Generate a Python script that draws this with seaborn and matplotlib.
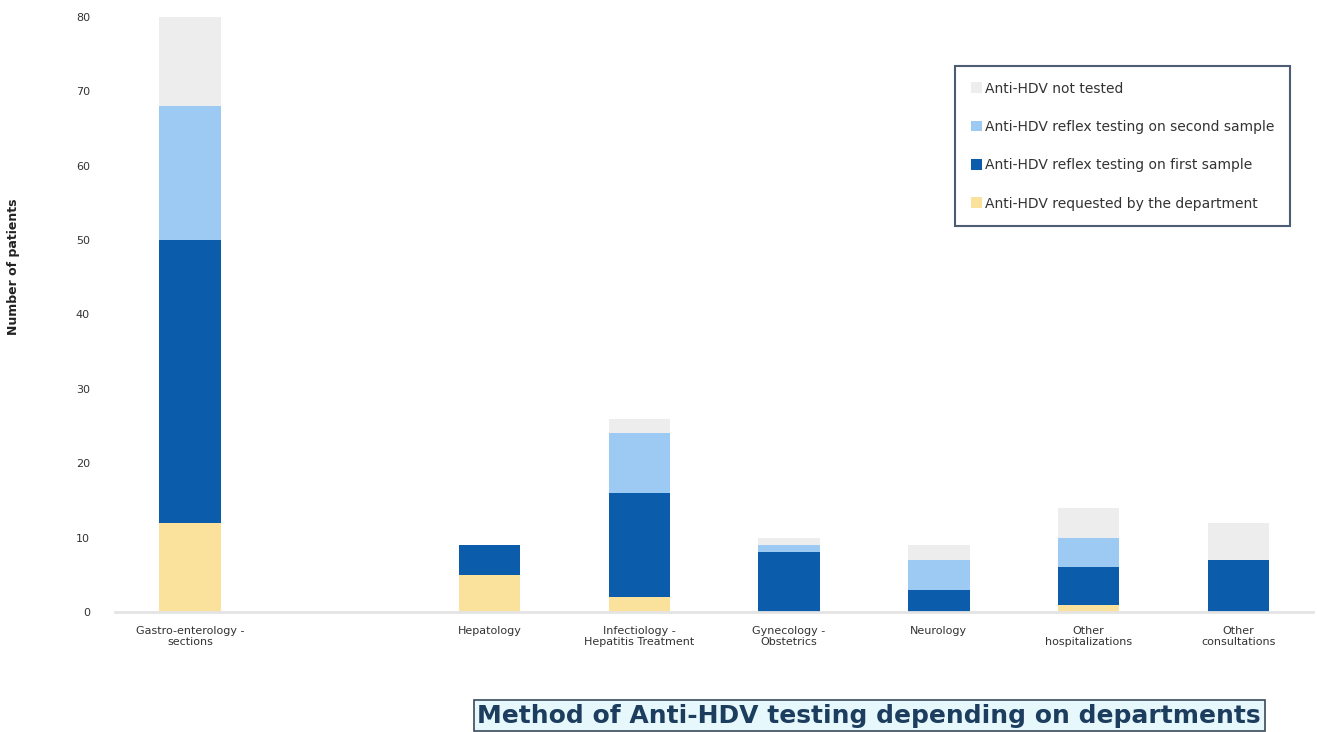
import numpy as np
import pandas as pd
import matplotlib
matplotlib.use("Agg")
import matplotlib.pyplot as plt
import seaborn as sns
from matplotlib.patches import Patch

categories = ["Gastro-enterology -\nsections", " ", "Hepatology", "Infectiology -\nHepatitis Treatment",
              "Gynecology -\nObstetrics", "Neurology", "Other\nhospitalizations", "Other\nconsultations"]
requested = [12, 0, 5, 2, 0, 0, 1, 0]
reflex_first = [38, 0, 4, 14, 8, 3, 5, 7]
reflex_second = [18, 0, 0, 8, 1, 4, 4, 0]
not_tested = [12, 0, 0, 2, 1, 2, 4, 5]
series_names = ["Anti-HDV not tested", "Anti-HDV reflex testing on second sample",
                "Anti-HDV reflex testing on first sample", "Anti-HDV requested by the department"]
y_ticks = [0, 10, 20, 30, 40, 50, 60, 70, 80]

colors = {"req": "#fbe29c", "first": "#0b5cab", "second": "#9dcaf3", "not": "#ededed"}

sns.set_theme(style="white")
plt.rcParams['font.family'] = ['DejaVu Sans']

fig = plt.figure(figsize=(13.17, 7.32), dpi=100)
ax = fig.add_axes([0.0873, 0.164, 0.91, 0.813])

c1 = np.array(requested)
c2 = c1 + np.array(reflex_first)
c3 = c2 + np.array(reflex_second)
c4 = c3 + np.array(not_tested)

df = pd.DataFrame({"cat": categories, "c1": c1, "c2": c2, "c3": c3, "c4": c4})
for col, color in [("c4", colors["not"]), ("c3", colors["second"]), ("c2", colors["first"]), ("c1", colors["req"])]:
    sns.barplot(data=df, x="cat", y=col, color=color, width=0.41, ax=ax, order=categories,
                saturation=1, linewidth=0, errorbar=None)

ax.set_xlim(-0.5, 7.5)
ax.set_ylim(0, 80)
ax.set_yticks(y_ticks)
ax.set_yticklabels([str(v) for v in y_ticks], fontsize=8, color="#333333")
ax.tick_params(axis="x", labelsize=8, colors="#333333", length=0, pad=10)
ax.tick_params(axis="y", length=0, pad=18)
ax.set_xlabel("")
ax.set_ylabel("Number of patients", fontsize=9, fontweight="bold", color="#222222")
ax.yaxis.set_label_coords(-0.079, 0.58)
for s in ["top", "right", "left"]:
    ax.spines[s].set_visible(False)
ax.spines["bottom"].set_color("#e4e4e4")
ax.spines["bottom"].set_linewidth(2)

handles = [Patch(facecolor=colors["not"], edgecolor="none"),
           Patch(facecolor=colors["second"], edgecolor="none"),
           Patch(facecolor=colors["first"], edgecolor="none"),
           Patch(facecolor=colors["req"], edgecolor="none")]
leg = ax.legend(handles, series_names, loc="upper left", bbox_to_anchor=(0.701, 0.918),
                fontsize=10, frameon=True, fancybox=False, handlelength=0.8, handleheight=0.8,
                handletextpad=0.2, labelspacing=1.75, borderpad=1.15, borderaxespad=0)
leg.get_frame().set_edgecolor("#1f3550")
leg.get_frame().set_linewidth(1.5)
for t in leg.get_texts():
    t.set_color("#333333")

fig.text(0.66, 0.006, "Method of Anti-HDV testing depending on departments", fontsize=18,
         fontweight="bold", color="#1c3d5e", ha="center", va="bottom",
         bbox=dict(boxstyle="square,pad=0.15", facecolor="#e6f8fc", edgecolor="#3a4a5a", linewidth=1.2))

fig.savefig("out.png", dpi=100)
